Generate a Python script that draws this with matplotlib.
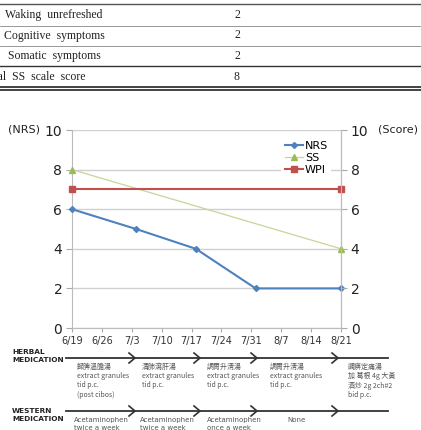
import matplotlib
matplotlib.use("Agg")
import matplotlib.pyplot as plt
from matplotlib.lines import Line2D

# table rows (top part, cut off)
row_names = ["Waking  unrefreshed", "Cognitive  symptoms", "Somatic  symptoms"]
row_scores = ["2", "2", "2"]
total_name = "Total  SS  scale  score"
total_score = "8"

# chart data, days from 6/19
date_labels = ["6/19", "6/26", "7/3", "7/10", "7/17", "7/24", "7/31", "8/7", "8/14", "8/21"]
nrs_days = [0, 15, 29, 43, 63]
nrs_vals = [6, 5, 4, 2, 2]
ss_days = [0, 63]
ss_vals = [8, 4]
wpi_days = [0, 63]
wpi_vals = [7, 7]

herbal = ["歸脾溫膽湯\nextract granules\ntid p.c.\n(post cibos)",
          "清肺瀉肝湯\nextract granules\ntid p.c.",
          "調胃升淸湯\nextract granules\ntid p.c.",
          "調胃升淸湯\nextract granules\ntid p.c.",
          "蠲痹定痛湯\n加 葛根 4g 大黃\n酒炒 2g 2ch#2\nbid p.c."]
western = ["Acetaminophen\ntwice a week", "Acetaminophen\ntwice a week",
           "Acetaminophen\nonce a week", "None"]

W, H = 421, 430
fig = plt.figure(figsize=(W / 100, H / 100), dpi=100)

def fx(x):
    return x / W

def fy(y):
    return 1 - y / H

def hline(x0, x1, y, lw=0.8, color="#444444"):
    fig.add_artist(Line2D([fx(x0), fx(x1)], [fy(y), fy(y)], lw=lw, color=color))

cjk = ["Noto Sans CJK TC", "DejaVu Sans"]
serif = "Liberation Serif"

# ---- table ----
hline(0, 421, 4, 1.0, "#555555")
for y in [26, 46]:
    hline(0, 421, y, 0.6, "#888888")
hline(0, 421, 66, 1.0, "#333333")
hline(0, 421, 87, 1.2, "#222222")
hline(0, 421, 89.5, 1.2, "#222222")
for i, (n, s) in enumerate(zip(row_names, row_scores)):
    y = 15 + i * 20.5
    fig.text(fx(54), fy(y), n, ha="center", va="center", family=serif, fontsize=8.5, color="#222222")
    fig.text(fx(237), fy(y), s, ha="center", va="center", family=serif, fontsize=8.5, color="#222222")
fig.text(fx(-18), fy(77), total_name, ha="left", va="center", family=serif, fontsize=8.5, color="#222222")
fig.text(fx(237), fy(77), total_score, ha="center", va="center", family=serif, fontsize=8.5, color="#222222")

# ---- chart ----
ax = fig.add_axes([fx(72), fy(328), (341 - 72) / W, (328 - 130) / H])
ax.plot(nrs_days, nrs_vals, color="#4F81BD", lw=1.5, marker="D", ms=3, label="NRS", clip_on=False, zorder=4)
ax.plot(ss_days, ss_vals, color="#C3D69B", lw=0.9, marker="^", ms=5, mfc="#9BBB59", mec="#9BBB59",
        label="SS", clip_on=False, zorder=3)
ax.plot(wpi_days, wpi_vals, color="#C0504D", lw=1.5, marker="s", ms=4, label="WPI", clip_on=False, zorder=3)

ax.set_xlim(0, 63)
ax.set_ylim(0, 10)
ax.set_xticks(range(0, 64, 7))
ax.set_xticklabels(date_labels, fontsize=7, color="#333333")
ax.set_yticks([0, 2, 4, 6, 8, 10])
ax.tick_params(axis="y", labelsize=10, colors="#222222", length=4, color="#AAAAAA", pad=3)
ax.tick_params(axis="x", length=3, color="#AAAAAA", pad=3)
ax.yaxis.grid(True, color="#D0D0D0", lw=1)
ax.set_axisbelow(True)
for s in ["left", "bottom", "right"]:
    ax.spines[s].set_color("#BBBBBB")
ax.spines["top"].set_visible(False)

ax2 = ax.twinx()
ax2.set_ylim(0, 10)
ax2.set_yticks([0, 2, 4, 6, 8, 10])
ax2.tick_params(axis="y", labelsize=10, colors="#222222", length=4, color="#AAAAAA", pad=3)
for s in ["left", "top", "bottom"]:
    ax2.spines[s].set_visible(False)
ax2.spines["right"].set_color("#BBBBBB")

fig.text(fx(8), fy(130), "(NRS)", ha="left", va="center", fontsize=8, color="#222222")
fig.text(fx(378), fy(130), "(Score)", ha="left", va="center", fontsize=8, color="#222222")

leg = ax.legend(loc="upper right", bbox_to_anchor=(0.985, 0.99), fontsize=8, frameon=True,
                handlelength=1.6, handletextpad=0.2, labelspacing=0.2, borderpad=0.3)
leg.get_frame().set_edgecolor("none")
leg.get_frame().set_facecolor("white")
leg.get_frame().set_alpha(1)
leg.set_zorder(10)

# ---- medication timeline ----
def chevron(x, y):
    fig.add_artist(Line2D([fx(x - 6), fx(x), fx(x - 6)], [fy(y - 5), fy(y), fy(y + 5)],
                          lw=1.2, color="#333333"))

fig.text(fx(12), fy(356), "HERBAL\nMEDICATION", ha="left", va="center", fontsize=5.3,
         fontweight="bold", color="#222222", linespacing=1.5)
fig.text(fx(12), fy(415), "WESTERN\nMEDICATION", ha="left", va="center", fontsize=5.3,
         fontweight="bold", color="#222222", linespacing=1.5)

hline(66, 388, 358, 1.3, "#333333")
hline(66, 388, 411, 1.3, "#333333")
for xc in [135, 200, 257, 338]:
    chevron(xc, 358)
    chevron(xc, 411)

herb_x = [77, 142, 207, 270, 348]
for xs, t in zip(herb_x, herbal):
    fig.text(fx(xs), fy(363), t, ha="left", va="top", fontsize=5, color="#555555",
             family=cjk, linespacing=1.2)
west_x = [74, 140, 207, 287]
for xs, t in zip(west_x, western):
    fig.text(fx(xs), fy(417), t, ha="left", va="top", fontsize=5, color="#555555",
             linespacing=1.4)

fig.savefig("out.png", dpi=100)
